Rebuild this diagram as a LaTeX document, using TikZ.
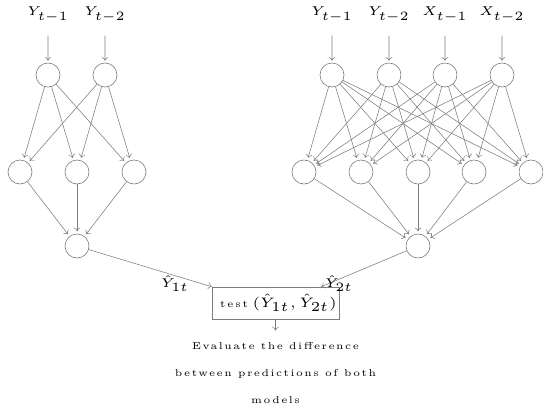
\documentclass[tikz,border=0pt]{standalone}
\usepackage{fontspec}
\usetikzlibrary{arrows.meta}
% small optical size roman, used enlarged for the captions
\newfontfamily\capfont{lmroman5-regular}[Extension=.otf, LetterSpace=15]
\newfontfamily\boxfont{lmroman5-regular}[Extension=.otf, LetterSpace=18]

\definecolor{linegray}{RGB}{125,125,125}

\tikzset{
  neuron/.style={circle, draw=linegray, line width=0.6pt, minimum size=24pt, inner sep=0pt},
  conn/.style={draw=linegray, line width=0.55pt, -{To[length=3.5pt,width=6.5pt]}, shorten >=2.5pt},
  tinymath/.style={font=\fontsize{5}{6}\selectfont, inner sep=0pt, scale=#1, transform shape},
  inlabel/.style={tinymath=2.55, anchor=base},
  inarrow/.style={conn, shorten <=13pt, shorten >=2pt},
  testbox/.style={draw=linegray, line width=0.6pt, minimum width=127pt, minimum height=32pt, inner sep=0pt},
  caption/.style={font=\capfont\fontsize{10}{27}\selectfont, align=center, inner xsep=0pt, inner ysep=11pt, anchor=north}
}

\begin{document}
\begin{tikzpicture}[x=1pt, y=-1pt]
\useasboundingbox (0,0) rectangle (543,412);

% ---------- restricted model: own lags only ----------
\node[inlabel] (lx1) at (48,16)  {$Y_{t-1}$};
\node[inlabel] (lx2) at (105,16) {$Y_{t-2}$};

\node[neuron] (la1) at (48,75)  {};
\node[neuron] (la2) at (105,75) {};

\node[neuron] (lh1) at (20,172)  {};
\node[neuron] (lh2) at (77,172)  {};
\node[neuron] (lh3) at (134,172) {};

\node[neuron] (lo) at (77,246) {};

\draw[inarrow] (lx1) -- (la1);
\draw[inarrow] (lx2) -- (la2);

\foreach \i in {1,2}
  \foreach \j in {1,2,3}
    \draw[conn] (la\i) -- (lh\j);

\foreach \j in {1,2,3}
  \draw[conn] (lh\j) -- (lo);

% ---------- unrestricted model: own lags plus X lags ----------
\node[inlabel] (rx1) at (332,16) {$Y_{t-1}$};
\node[inlabel] (rx2) at (389,16) {$Y_{t-2}$};
\node[inlabel] (rx3) at (445,16) {$X_{t-1}$};
\node[inlabel] (rx4) at (502,16) {$X_{t-2}$};

\node[neuron] (ra1) at (332,75) {};
\node[neuron] (ra2) at (389,75) {};
\node[neuron] (ra3) at (445,75) {};
\node[neuron] (ra4) at (502,75) {};

\node[neuron] (rh1) at (304,172) {};
\node[neuron] (rh2) at (361,172) {};
\node[neuron] (rh3) at (418,172) {};
\node[neuron] (rh4) at (474,172) {};
\node[neuron] (rh5) at (531,172) {};

\node[neuron] (ro) at (418,246) {};

\foreach \i in {1,...,4}
  \draw[inarrow] (rx\i) -- (ra\i);

\foreach \i in {1,...,4}
  \foreach \j in {1,...,5}
    \draw[conn] (ra\i) -- (rh\j);

\foreach \j in {1,...,5}
  \draw[conn] (rh\j) -- (ro);

% ---------- comparison of the two forecasts ----------
\node[testbox] (tb) at (275.5,303) {};
\node[font=\boxfont\fontsize{10}{12}\selectfont, inner sep=0pt, anchor=base west] (tw) at (220,307) {test};
\node[tinymath=2.75, anchor=base west] (tm) at (252,307) {$(\hat{Y}_{1t},\hat{Y}_{2t})$};

\coordinate (tin) at ([xshift=-18pt]tb.north east);

\draw[conn, shorten >=0pt] (lo) -- (tb.north west);
\draw[conn, shorten >=0pt] (ro) -- (tin);

\node[tinymath=2.55, anchor=base] (y1) at (175,287.5) {$\hat{Y}_{1t}$};
\node[tinymath=2.55, anchor=base] (y2) at (339,287.5) {$\hat{Y}_{2t}$};

\node[caption] (ev) at (275.5,331)
  {Evaluate the difference\\between predictions of both\\models};

\draw[conn, shorten >=0.5pt] (tb) -- (ev);
\end{tikzpicture}
\end{document}
